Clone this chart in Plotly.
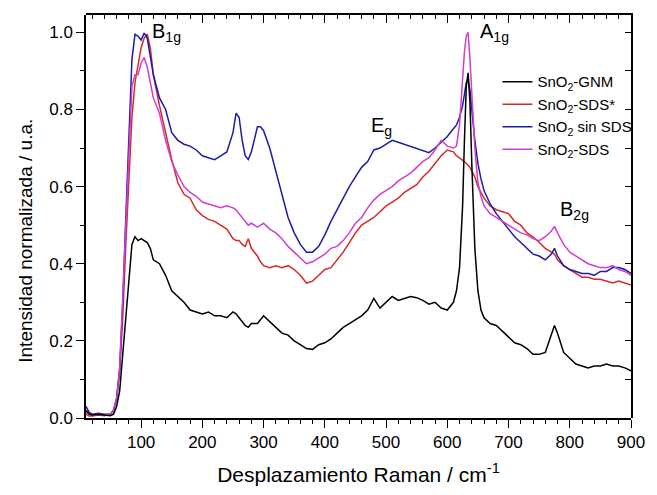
import plotly.graph_objects as go

x_cm = [10,15,20,30,40,50,55,60,65,70,
        75,80,85,90,95,100,105,110,115,120,
        130,140,150,160,170,180,190,200,210,220,
        230,240,250,255,260,265,270,275,280,290,
        295,300,310,320,330,340,350,360,370,380,
        390,400,410,420,430,440,450,460,470,480,
        490,500,510,520,530,540,550,560,570,580,
        590,600,610,615,620,625,628,631,634,637,
        640,645,650,655,660,670,680,690,700,710,
        720,730,740,750,760,770,775,780,790,800,
        810,820,830,840,850,860,870,880,890,900]

gnm = [0.02,0.01,0.008,0.01,0.008,0.006,0.01,0.03,0.07,0.16,
       0.26,0.36,0.45,0.47,0.46,0.465,0.46,0.455,0.44,0.41,
       0.40,0.37,0.33,0.315,0.30,0.28,0.275,0.27,0.275,0.265,
       0.265,0.26,0.275,0.27,0.26,0.25,0.24,0.235,0.245,0.245,
       0.255,0.265,0.25,0.235,0.22,0.215,0.20,0.19,0.18,0.178,
       0.19,0.195,0.205,0.22,0.235,0.245,0.255,0.265,0.28,0.31,
       0.285,0.30,0.315,0.305,0.31,0.315,0.312,0.305,0.295,0.30,
       0.285,0.28,0.30,0.33,0.39,0.55,0.72,0.86,0.895,0.82,
       0.66,0.44,0.33,0.28,0.26,0.245,0.24,0.225,0.21,0.195,
       0.19,0.18,0.165,0.165,0.17,0.215,0.24,0.22,0.17,0.155,
       0.14,0.135,0.13,0.135,0.135,0.14,0.135,0.135,0.13,0.122]

sds_star = [0.01,0.005,0.005,0.008,0.006,0.01,0.02,0.05,0.12,0.26,
            0.45,0.62,0.78,0.87,0.91,0.96,0.985,0.995,0.96,0.89,
            0.81,0.74,0.67,0.61,0.58,0.57,0.54,0.525,0.515,0.51,
            0.50,0.49,0.465,0.46,0.46,0.45,0.445,0.465,0.44,0.42,
            0.405,0.395,0.39,0.395,0.39,0.395,0.385,0.37,0.35,0.355,
            0.37,0.385,0.39,0.41,0.43,0.455,0.48,0.50,0.51,0.52,
            0.535,0.55,0.56,0.57,0.585,0.595,0.605,0.625,0.64,0.66,
            0.68,0.695,0.69,0.68,0.675,0.67,0.665,0.66,0.655,0.65,
            0.64,0.625,0.60,0.585,0.57,0.55,0.54,0.535,0.53,0.51,
            0.50,0.48,0.47,0.455,0.44,0.43,0.425,0.41,0.395,0.385,
            0.375,0.365,0.365,0.36,0.36,0.355,0.35,0.355,0.35,0.345]

sin_sds = [0.03,0.015,0.01,0.012,0.01,0.01,0.02,0.05,0.13,0.30,
           0.52,0.72,0.93,0.995,0.99,0.98,0.998,0.985,0.94,0.89,
           0.83,0.80,0.74,0.72,0.71,0.705,0.695,0.68,0.675,0.67,
           0.68,0.69,0.74,0.79,0.78,0.72,0.68,0.67,0.69,0.755,
           0.755,0.745,0.70,0.64,0.58,0.52,0.48,0.45,0.43,0.43,
           0.445,0.475,0.51,0.54,0.57,0.60,0.625,0.65,0.665,0.695,
           0.70,0.71,0.72,0.715,0.71,0.705,0.70,0.695,0.688,0.70,
           0.715,0.73,0.75,0.76,0.78,0.81,0.84,0.87,0.875,0.85,
           0.80,0.72,0.66,0.62,0.59,0.555,0.53,0.51,0.49,0.47,
           0.455,0.44,0.425,0.42,0.41,0.425,0.44,0.42,0.395,0.385,
           0.38,0.375,0.375,0.37,0.38,0.38,0.39,0.39,0.385,0.375]

sds = [0.015,0.01,0.008,0.01,0.008,0.01,0.02,0.05,0.13,0.30,
       0.50,0.68,0.86,0.89,0.89,0.92,0.935,0.91,0.87,0.83,
       0.79,0.72,0.665,0.63,0.60,0.585,0.575,0.56,0.555,0.55,
       0.545,0.55,0.545,0.54,0.53,0.52,0.51,0.50,0.505,0.495,
       0.50,0.505,0.49,0.48,0.465,0.445,0.43,0.415,0.40,0.405,
       0.415,0.425,0.44,0.445,0.46,0.48,0.505,0.52,0.545,0.565,
       0.58,0.59,0.60,0.615,0.625,0.635,0.65,0.665,0.675,0.695,
       0.72,0.705,0.70,0.705,0.76,0.88,0.95,0.99,1.0,0.93,
       0.83,0.70,0.61,0.575,0.55,0.53,0.52,0.51,0.50,0.49,
       0.48,0.475,0.465,0.46,0.47,0.485,0.497,0.48,0.45,0.43,
       0.42,0.41,0.40,0.395,0.39,0.39,0.395,0.385,0.38,0.37]

series_names = ["SnO<sub>2</sub>-GNM", "SnO<sub>2</sub>-SDS*",
                "SnO<sub>2</sub> sin SDS", "SnO<sub>2</sub>-SDS"]
series_values = [gnm, sds_star, sin_sds, sds]
series_colors = ["#000000", "#d42a2a", "#1c1ca8", "#d03ed0"]

peak_labels = ["B<sub>1g</sub>", "E<sub>g</sub>", "A<sub>1g</sub>", "B<sub>2g</sub>"]
peak_x = [115, 472, 650, 780]
peak_y = [1.0, 0.755, 1.0, 0.537]

x_range = [10, 900]
y_range = [0, 1.045]

FONT = "Arial, 'Liberation Sans', sans-serif"

fig = go.Figure()
for i, (name, vals, col) in enumerate(zip(series_names, series_values, series_colors)):
    # first series drawn on the top/right frame axes (identical ranges)
    axes = dict(xaxis="x2", yaxis="y2") if i == 0 else {}
    fig.add_trace(go.Scatter(x=x_cm, y=vals, mode="lines", name=name,
                             line=dict(color=col, width=1.5), **axes))

for lab, px, py in zip(peak_labels, peak_x, peak_y):
    fig.add_annotation(x=px, y=py, text=lab, showarrow=False,
                       xanchor="left", yanchor="middle",
                       font=dict(family=FONT, size=20, color="black"))

fig.add_annotation(xref="paper", yref="paper", x=-0.11, y=0.44,
                   text="Intensidad normalizada / u.a.", textangle=-90,
                   showarrow=False, xanchor="center", yanchor="middle",
                   font=dict(family=FONT, size=19, color="black"))

tick_common = dict(tickwidth=1.3, tickcolor="black", showgrid=False, zeroline=False)
minor_common = dict(tickcolor="black", tickwidth=1.3)

fig.update_layout(
    width=657, height=495,
    margin=dict(l=86, r=15, t=15, b=67),
    paper_bgcolor="white", plot_bgcolor="rgba(0,0,0,0)",
    font=dict(family=FONT, color="black"),
    showlegend=True,
    legend=dict(x=0.755, y=0.875, xanchor="left", yanchor="top",
                bgcolor="rgba(0,0,0,0)", font=dict(size=15, family=FONT)),
    xaxis=dict(range=x_range, domain=[0, 1], anchor="y", side="bottom",
               showline=True, linecolor="black", linewidth=1.5,
               ticks="outside", ticklen=8, dtick=100, tick0=0,
               minor=dict(ticks="outside", ticklen=4, dtick=20, **minor_common),
               tickfont=dict(size=17),
               title=dict(text="Desplazamiento Raman / cm<sup>-1</sup>", font=dict(size=21), standoff=16),
               **tick_common),
    yaxis=dict(range=y_range, domain=[0, 1], anchor="x", side="left",
               showline=True, linecolor="black", linewidth=1.5,
               ticks="outside", ticklen=8, dtick=0.2, tick0=0, tickformat=".1f",
               minor=dict(ticks="outside", ticklen=4, dtick=0.1, **minor_common),
               tickfont=dict(size=17),
               **tick_common),
    xaxis2=dict(range=x_range, domain=[0, 1], anchor="y2", side="top",
                showticklabels=False, showline=True, linecolor="black", linewidth=1.5,
                ticks="inside", ticklen=8, dtick=100, tick0=0,
                minor=dict(ticks="inside", ticklen=4, dtick=20, **minor_common),
                **tick_common),
    yaxis2=dict(range=y_range, domain=[0, 1], anchor="x2", side="right",
                showticklabels=False, showline=True, linecolor="black", linewidth=1.5,
                ticks="inside", ticklen=6, dtick=0.1, tick0=0,
                **tick_common),
)

fig.write_html("out.html")
